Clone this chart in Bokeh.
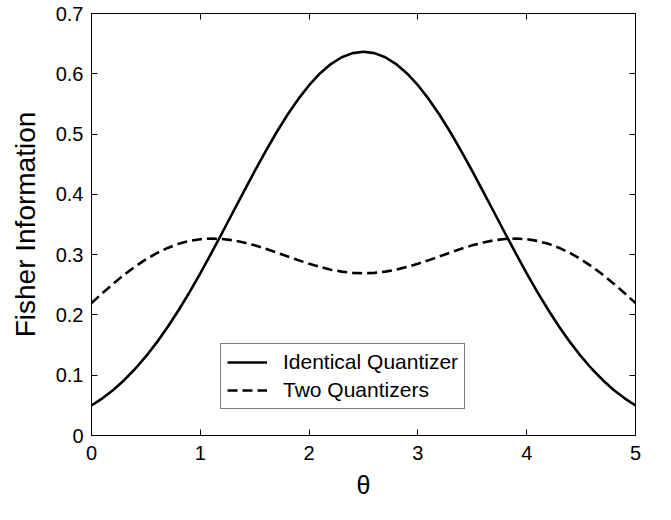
from bokeh.plotting import figure
from bokeh.models import Range1d, LinearAxis, Legend, LegendItem, FixedTicker
from bokeh.embed import file_html
from bokeh.resources import INLINE

theta = [round(i * 0.1, 1) for i in range(51)]

identical = [0.0498, 0.0617, 0.0756, 0.0918, 0.1103, 0.1311, 0.1544, 0.1799, 0.2077, 0.2375,
             0.2691, 0.3020, 0.3359, 0.3703, 0.4047, 0.4386, 0.4714, 0.5026, 0.5316, 0.5579,
             0.5810, 0.6005, 0.6161, 0.6274, 0.6343, 0.6366, 0.6343, 0.6274, 0.6161, 0.6005,
             0.5810, 0.5579, 0.5316, 0.5026, 0.4714, 0.4386, 0.4047, 0.3703, 0.3359, 0.3020,
             0.2691, 0.2375, 0.2077, 0.1799, 0.1544, 0.1311, 0.1103, 0.0918, 0.0756, 0.0617,
             0.0498]

two_quantizers = [0.2196, 0.2361, 0.2519, 0.2666, 0.2801, 0.2921, 0.3025, 0.3111, 0.3179, 0.3227,
                  0.3256, 0.3267, 0.3260, 0.3238, 0.3202, 0.3154, 0.3098, 0.3036, 0.2972, 0.2909,
                  0.2849, 0.2796, 0.2751, 0.2718, 0.2698, 0.2691, 0.2698, 0.2718, 0.2751, 0.2796,
                  0.2849, 0.2909, 0.2972, 0.3036, 0.3098, 0.3154, 0.3202, 0.3238, 0.3260, 0.3267,
                  0.3256, 0.3227, 0.3179, 0.3111, 0.3025, 0.2921, 0.2801, 0.2666, 0.2519, 0.2361,
                  0.2196]

x_ticks = [0, 1, 2, 3, 4, 5]
y_ticks = [0, 0.1, 0.2, 0.3, 0.4, 0.5, 0.6, 0.7]
y_tick_labels = {0: "0", 0.1: "0.1", 0.2: "0.2", 0.3: "0.3", 0.4: "0.4", 0.5: "0.5", 0.6: "0.6", 0.7: "0.7"}

FONT = "Liberation Sans"

p = figure(width=655, height=504, output_backend="svg", toolbar_location=None,
           x_range=Range1d(0, 5), y_range=Range1d(0, 0.7),
           min_border_left=91, min_border_right=20, min_border_top=13, min_border_bottom=69)
p.background_fill_color = "white"
p.border_fill_color = "white"
p.outline_line_color = "black"
p.outline_line_width = 1
p.grid.visible = False

l1 = p.line(theta, identical, line_color="black", line_width=2.6)
l2 = p.line(theta, two_quantizers, line_color="black", line_width=2.6, line_dash="10 5")

for ax in p.xaxis:
    ax.ticker = FixedTicker(ticks=x_ticks)
    ax.axis_label = "θ"
    ax.axis_label_text_font = FONT
    ax.axis_label_text_font_size = "25px"
    ax.axis_label_text_font_style = "normal"
    ax.axis_label_standoff = 8
    ax.major_label_text_font = FONT
    ax.major_label_text_font_size = "20px"
    ax.major_label_standoff = 10
for ax in p.yaxis:
    ax.ticker = FixedTicker(ticks=y_ticks)
    ax.major_label_overrides = y_tick_labels
    ax.axis_label = "Fisher Information"
    ax.axis_label_text_font = FONT
    ax.axis_label_text_font_size = "28px"
    ax.axis_label_text_font_style = "normal"
    ax.axis_label_standoff = 12
    ax.major_label_text_font = FONT
    ax.major_label_text_font_size = "20px"
    ax.major_label_standoff = 8
for ax in list(p.xaxis) + list(p.yaxis):
    ax.major_tick_in = 6
    ax.major_tick_out = 0
    ax.minor_tick_in = 0
    ax.minor_tick_out = 0
    ax.axis_line_color = None
    ax.major_tick_line_color = "black"
    ax.major_label_text_color = "black"
    ax.axis_label_text_color = "black"

top = LinearAxis(ticker=FixedTicker(ticks=x_ticks),
                 major_label_overrides={t: "" for t in x_ticks},
                 major_label_text_color=None, major_label_text_font_size="20px",
                 major_tick_in=6, major_tick_out=0, minor_tick_in=0, minor_tick_out=0,
                 axis_line_color=None, major_label_standoff=0)
right = LinearAxis(ticker=FixedTicker(ticks=y_ticks),
                   major_label_overrides={t: "" for t in y_ticks},
                   major_label_text_color=None, major_label_text_font_size="20px",
                   major_tick_in=6, major_tick_out=0, minor_tick_in=0, minor_tick_out=0,
                   axis_line_color=None, major_label_standoff=0)
p.add_layout(top, "above")
p.add_layout(right, "right")

legend = Legend(items=[LegendItem(label="Identical Quantizer", renderers=[l1]),
                       LegendItem(label="Two Quantizers", renderers=[l2])],
                location=(129, 26))
legend.border_line_color = "black"
legend.border_line_width = 1
legend.background_fill_color = "white"
legend.background_fill_alpha = 1
legend.label_text_font = FONT
legend.label_text_font_size = "21px"
legend.label_text_color = "black"
legend.glyph_width = 40
legend.glyph_height = 22
legend.label_height = 22
legend.label_standoff = 16
legend.spacing = 4
legend.padding = 6
legend.margin = 0
p.add_layout(legend, "center")

open("out.html", "w").write(file_html(p, INLINE))
